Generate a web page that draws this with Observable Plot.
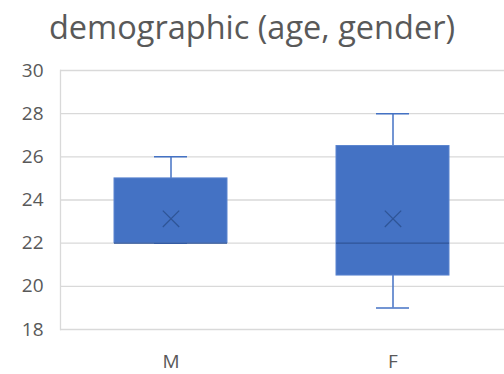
<!DOCTYPE html>
<html>
<head>
<meta charset="utf-8">
<script src="https://cdn.jsdelivr.net/npm/d3@7"></script>
<script src="https://cdn.jsdelivr.net/npm/@observablehq/plot@0.6"></script>
<style>
  html, body { margin: 0; padding: 0; background: #fff; }
  #wrap { width: 504px; height: 374px; overflow: hidden; font-family: "Open Sans", sans-serif; }
  #title { height: 56px; line-height: 54px; text-align: center; font-size: 32.5px; color: #595959; white-space: nowrap; }
  svg { display: block; }
</style>
</head>
<body>
<div id="wrap">
  <div id="title">demographic (age, gender)</div>
  <div id="chart"></div>
</div>
<script>
// Age distribution by gender: box-and-whisker summary
const genders = ["M", "F"];
const minAge = [22, 19];
const q1Age = [22, 20.5];
const medianAge = [22, 22];
const q3Age = [25, 26.5];
const maxAge = [26, 28];
const meanAge = [23.13, 23.13];
const yTicks = [18, 20, 22, 24, 26, 28, 30];

const rows = genders.map((g, i) => ({
  gender: g, min: minAge[i], q1: q1Age[i], median: medianAge[i],
  q3: q3Age[i], max: maxAge[i], mean: meanAge[i]
}));

const blue = "#4472C4";
const dark = "#2F5597";
const capInset = 40;

const chart = Plot.plot({
  width: 504,
  height: 318,
  marginLeft: 60,
  marginRight: 0,
  marginTop: 14,
  marginBottom: 45,
  style: { fontFamily: "Open Sans, sans-serif", fontSize: "19px", color: "#595959", background: "#fff" },
  x: { domain: genders, paddingInner: 0.49, paddingOuter: 0.245, label: null, tickSize: 0, tickPadding: 25 },
  y: { domain: [18, 30], ticks: yTicks, label: null, tickSize: 0, tickPadding: 17, tickFormat: d => String(d) },
  marks: [
    Plot.ruleY(yTicks, { stroke: "#d9d9d9", strokeWidth: 1.3 }),
    Plot.frame({ anchor: "left", stroke: "#d9d9d9", strokeWidth: 1.3 }),
    // whiskers
    Plot.ruleX(rows, { x: "gender", y1: "q3", y2: "max", stroke: blue, strokeWidth: 1.5 }),
    Plot.ruleX(rows, { x: "gender", y1: "min", y2: "q1", stroke: blue, strokeWidth: 1.5 }),
    Plot.tickY(rows, { x: "gender", y: "max", stroke: blue, strokeWidth: 1.5, insetLeft: capInset, insetRight: capInset }),
    Plot.tickY(rows, { x: "gender", y: "min", stroke: blue, strokeWidth: 1.5, insetLeft: capInset, insetRight: capInset }),
    // interquartile box
    Plot.barY(rows, { x: "gender", y1: "q1", y2: "q3", fill: blue, stroke: "#5a84cf", strokeWidth: 1 }),
    // median line
    Plot.tickY(rows, { x: "gender", y: "median", stroke: dark, strokeWidth: 1.3 }),
    // mean marker
    Plot.dot(rows, { x: "gender", y: "mean", symbol: "times", r: 7.5, stroke: dark, strokeWidth: 1.3 })
  ]
});
document.getElementById("chart").appendChild(chart);
</script>
</body>
</html>
